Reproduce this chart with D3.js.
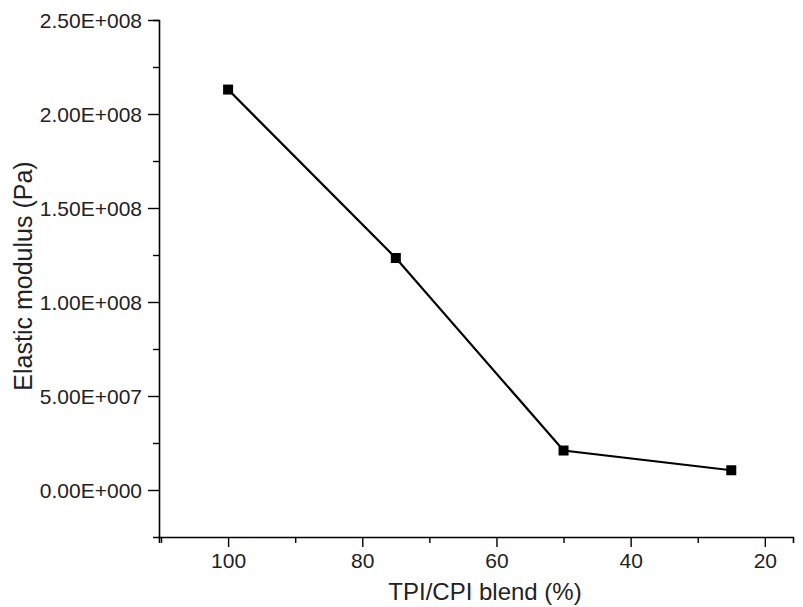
<!DOCTYPE html>
<html><head><meta charset="utf-8">
<script src="https://cdn.jsdelivr.net/npm/d3@7"></script>
<style>body{margin:0;background:#fff}text{font-family:Arial,"Liberation Sans",sans-serif}</style>
</head><body><svg id="c" width="803" height="607"></svg>
<script>
const blend = [100, 75, 50, 25];
const modulus = [2.13e8, 1.234e8, 2.1e7, 1.05e7];
const xTicks = [100, 80, 60, 40, 20];
const yTicks = [0, 5e7, 1e8, 1.5e8, 2e8, 2.5e8];
const yLabels = ['0.00E+000','5.00E+007','1.00E+008','1.50E+008','2.00E+008','2.50E+008'];

const svg = d3.select('#c');
const L = 159, R = 793, T = 20, B = 537;
const x = d3.scaleLinear().domain([110.3, 15.8]).range([L, R]);
const y = d3.scaleLinear().domain([-2.5e7, 2.5e8]).range([B, T]);

// axes
const xa = svg.append('g').attr('transform', `translate(0,${B})`)
  .call(d3.axisBottom(x).tickValues(d3.range(20, 111, 10)).tickSize(6)
    .tickFormat(d => xTicks.includes(d) ? d : ''));
xa.selectAll('.tick line').attr('y2', d => xTicks.includes(d) ? 10 : 6);
const ya = svg.append('g').attr('transform', `translate(${L},0)`)
  .call(d3.axisLeft(y).tickValues(d3.range(0, 2.51e8, 2.5e7)).tickSize(6)
    .tickFormat(d => { const i = yTicks.findIndex(v => Math.abs(v - d) < 1); return i >= 0 ? yLabels[i] : ''; }));
ya.selectAll('.tick line').attr('x2', d => yTicks.some(v => Math.abs(v - d) < 1) ? -11 : -6);
[xa, ya].forEach(g => {
  g.attr('font-size', null).attr('font-family', null);
  g.select('.domain').attr('stroke', '#000').attr('stroke-width', 1.6);
  g.selectAll('.tick line').attr('stroke', '#000').attr('stroke-width', 1.4);
  g.selectAll('text').style('font-size', '21px').attr('fill', '#222');
});
xa.selectAll('text').attr('y', 14).attr('dy', '0.8em');
ya.selectAll('text').attr('x', -17).attr('dy', '0.35em');

// line + markers
const pts = blend.map((b, i) => [b, modulus[i]]);
svg.append('path').datum(pts).attr('fill', 'none').attr('stroke', '#000').attr('stroke-width', 2.2)
  .attr('d', d3.line().x(d => x(d[0])).y(d => y(d[1])));
svg.selectAll('rect.pt').data(pts).join('rect').attr('class', 'pt')
  .attr('x', d => x(d[0]) - 5).attr('y', d => y(d[1]) - 5).attr('width', 10).attr('height', 10).attr('fill', '#000');

// labels
svg.append('text').attr('x', 485).attr('y', 600).attr('text-anchor', 'middle')
  .style('font-size', '24px').attr('fill', '#222').text('TPI/CPI blend (%)');
svg.append('text').attr('transform', `translate(32,276) rotate(-90)`)
  .attr('text-anchor', 'middle').style('font-size', '25px').attr('fill', '#222').text('Elastic modulus (Pa)');
</script></body></html>
